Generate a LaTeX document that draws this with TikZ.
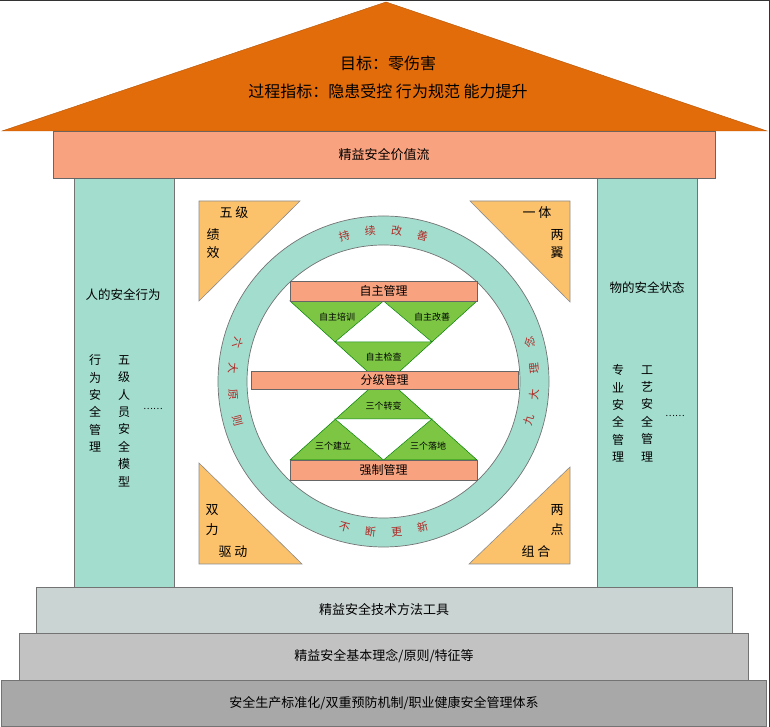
\documentclass[tikz,border=0pt]{standalone}
\usepackage{fontspec}
\setmainfont{Noto Sans CJK SC}
\usepackage{tikz}

\definecolor{roofc}{HTML}{E26B0A}
\definecolor{beamc}{HTML}{F9A27F}
\definecolor{pillarc}{HTML}{A3DDCE}
\definecolor{cornerc}{HTML}{FBC16B}
\definecolor{leafc}{HTML}{7CC644}
\definecolor{ringred}{HTML}{B02A26}
\definecolor{stepa}{HTML}{CAD4D3}
\definecolor{stepb}{HTML}{C2C2C2}
\definecolor{stepc}{HTML}{A8A8A8}

\begin{document}
\begin{tikzpicture}[x=1pt,y=1pt,
    slab/.style={fill=beamc,draw=black!60,line width=0.6pt},
    pillar/.style={fill=pillarc,draw=black!55,line width=0.8pt},
    corner/.style={fill=cornerc,draw=black!45,line width=0.6pt},
    leaf/.style={fill=leafc,draw=black!50!green,line width=0.5pt},
    txt/.style={font=\fontsize{13}{15}\selectfont},
    coltxt/.style={align=center,font=\fontsize{12}{17.4}\selectfont,inner sep=0pt},
    small/.style={font=\fontsize{9}{10}\selectfont},
    ringtxt/.style={text=ringred,font=\fontsize{11}{12}\selectfont,inner sep=0pt}]
      \useasboundingbox (0,0) rectangle (770,727);
      \draw[black!80,line width=1pt] (0,726.5) -- (769.5,726.5) -- (769.5,0);

      \filldraw[fill=stepc,draw=black!55] (1,0.5) rectangle (766,47);
      \filldraw[fill=stepb,draw=black!55] (19,47) rectangle (748,94);
      \filldraw[fill=stepa,draw=black!55] (36,94) rectangle (732,140);
      \filldraw[pillar] (74,140) rectangle (174,549);
      \filldraw[pillar] (597,140) rectangle (697,549);
      \filldraw[slab] (53,549) rectangle (715,596);
      \filldraw[fill=roofc,draw=roofc!80!black] (2,596) -- (386,725) -- (767,596) -- cycle;

      \node[font=\fontsize{16}{18}\selectfont] (goal) at (388,664) {目标：零伤害};
      \node[font=\fontsize{16}{18}\selectfont] (kpi) at (388,636) {过程指标：隐患受控 行为规范 能力提升};
      \node[txt] (flow) at (384,572) {精益安全价值流};
      \node[txt] (tools) at (384,117) {精益安全技术方法工具};
      \node[txt] (basic) at (384,70.5) {精益安全基本理念/原则/特征等};
      \node[txt] (system) at (384,23.5) {安全生产标准化/双重预防机制/职业健康安全管理体系};

      \node[font=\fontsize{12.5}{14}\selectfont] (man) at (123,432) {人的安全行为};
      \node[coltxt] (man1) at (95,323.5) {行\\为\\安\\全\\管\\理};
      \node[coltxt] (man2) at (124,306) {五\\级\\人\\员\\安\\全\\模\\型};
      \node[font=\fontsize{9}{10}\selectfont] (man3) at (153,318) {……};
      \node[font=\fontsize{12.5}{14}\selectfont] (thing) at (647,439) {物的安全状态};
      \node[coltxt] (thing1) at (618,313.5) {专\\业\\安\\全\\管\\理};
      \node[coltxt] (thing2) at (647,313.5) {工\\艺\\安\\全\\管\\理};
      \node[font=\fontsize{9}{10}\selectfont] (thing3) at (675,311) {……};

      \filldraw[corner] (199,526) -- (300,526) -- (199,426) -- cycle;
      \filldraw[corner] (470,526) -- (570,526) -- (570,425) -- cycle;
      \filldraw[corner] (199,264) -- (199,163) -- (302,163) -- cycle;
      \filldraw[corner] (570,260) -- (570,163) -- (469,163) -- cycle;
      \node[txt] (tl1) at (234,514) {五 级};
      \node[txt] (tl2) at (213,492) {绩};
      \node[txt] (tl3) at (213,474) {效};
      \node[txt] (tr1) at (537,514) {一 体};
      \node[txt] (tr2) at (557,492) {两};
      \node[txt] (tr3) at (557,474) {翼};
      \node[txt] (bl1) at (212,217) {双};
      \node[txt] (bl2) at (212,197) {力};
      \node[txt] (bl3) at (233,175) {驱 动};
      \node[txt] (br1) at (557,217) {两};
      \node[txt] (br2) at (557,197) {点};
      \node[txt] (br3) at (536,175) {组 合};

      \coordinate (c) at (383.5,345.5);
      \fill[pillarc,even odd rule] (c) circle (165.5) (c) circle (136.5);
      \draw[black!55,line width=0.7pt] (c) circle (165.5) (c) circle (136.5);
      \foreach \ch/\a in {持/105,续/95,改/85,善/75}
        \node[ringtxt,rotate=\a-90] (rc-\a) at ([shift={(\a:151)}]c) {\ch};
      \foreach \ch/\a in {六/165,大/175,原/185,则/195,不/255,断/265,更/275,新/285,九/345,大/355,理/5,念/15}
        \node[ringtxt,rotate=\a+90] (rc-\a) at ([shift={(\a:151)}]c) {\ch};

      \filldraw[leaf] (290,426) -- (477,426) -- (383.5,341) -- cycle;
      \filldraw[fill=white,draw=black!50!green,line width=0.5pt] (383.5,426) -- (335,385) -- (432,385) -- cycle;
      \filldraw[leaf] (290,267) -- (477,267) -- (383.5,351) -- cycle;
      \filldraw[fill=white,draw=black!50!green,line width=0.5pt] (383.5,267) -- (335,308) -- (432,308) -- cycle;
      \filldraw[slab] (290,426) rectangle (477,446);
      \filldraw[slab] (251,338) rectangle (518,356);
      \filldraw[slab] (290,247) rectangle (477,267);

      \node[font=\fontsize{12}{14}\selectfont] (self) at (383.5,436) {自主管理};
      \node[font=\fontsize{12}{14}\selectfont] (level) at (384.5,347) {分级管理};
      \node[font=\fontsize{12}{14}\selectfont] (force) at (383.5,257) {强制管理};
      \node[small] (g1) at (337,410) {自主培训};
      \node[small] (g2) at (432,410) {自主改善};
      \node[small] (g3) at (383.5,370) {自主检查};
      \node[small] (g4) at (383.5,321) {三个转变};
      \node[small] (g5) at (333,281) {三个建立};
      \node[small] (g6) at (428,281) {三个落地};
    \end{tikzpicture}
\end{document}
